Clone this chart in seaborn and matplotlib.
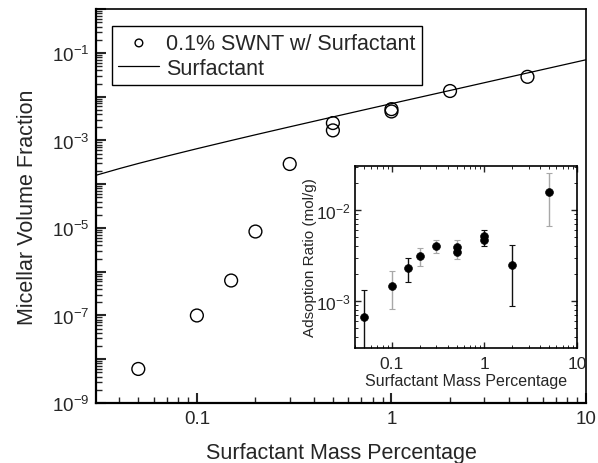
import matplotlib
matplotlib.use("Agg")
import matplotlib.pyplot as plt
import matplotlib.ticker as mticker
import numpy as np
import pandas as pd
import seaborn as sns

# main panel: micellar volume fraction vs surfactant mass percentage
swnt_conc = [0.05, 0.1, 0.15, 0.2, 0.3, 0.5, 0.5, 1, 1, 2, 5]
swnt_frac = [6e-9, 1e-7, 6.3e-7, 8.3e-6, 2.9e-4, 2.5e-3, 1.7e-3, 5.2e-3, 4.6e-3, 1.35e-2, 2.85e-2]

surf_conc = [0.03, 0.04, 0.05, 0.07, 0.1, 0.15, 0.2, 0.3, 0.5, 0.7, 1, 2, 5, 10]
surf_frac = [1.58e-4, 2.28e-4, 2.98e-4, 4.38e-4, 6.48e-4, 9.98e-4, 1.35e-3,
             2.05e-3, 3.45e-3, 4.85e-3, 6.95e-3, 1.39e-2, 3.49e-2, 6.99e-2]

# inset: adsorption ratio
ads_conc = [0.05, 0.1, 0.15, 0.2, 0.3, 0.5, 0.5, 1, 1, 2, 5]
ads_ratio = [6.7e-4, 1.46e-3, 2.3e-3, 3.13e-3, 4.0e-3, 3.9e-3, 3.5e-3, 5.2e-3, 4.7e-3, 2.49e-3, 1.58e-2]

err_conc = [0.05, 0.1, 0.15, 0.2, 0.3, 0.5, 1, 2, 5]
err_hi = [1.32e-3, 2.14e-3, 2.97e-3, 3.83e-3, 4.7e-3, 4.7e-3, 6.0e-3, 4.1e-3, 2.56e-2]
err_lo = [2e-4, 8.2e-4, 1.62e-3, 2.43e-3, 3.4e-3, 2.9e-3, 4.0e-3, 8.8e-4, 6.7e-3]
err_grey = [False, True, False, True, True, True, False, False, True]

sns.set_style("ticks")
plt.rcParams['font.family'] = ['Liberation Sans', 'DejaVu Sans']
plt.rcParams['mathtext.fontset'] = 'custom'
plt.rcParams['mathtext.rm'] = 'Liberation Sans'
plt.rcParams['mathtext.it'] = 'Liberation Sans'

swnt_df = pd.DataFrame({'conc': swnt_conc, 'frac': swnt_frac})
surf_df = pd.DataFrame({'conc': surf_conc, 'frac': surf_frac})
ads_df = pd.DataFrame({'conc': ads_conc, 'ratio': ads_ratio})

fig = plt.figure(figsize=(5.98, 4.64), dpi=100)
ax = fig.add_axes([0.1605, 0.1293, 0.8195, 0.8487])

sns.scatterplot(data=swnt_df, x='conc', y='frac', ax=ax, marker='o', s=85,
                facecolor='none', edgecolor='black', linewidth=1.0,
                label='0.1% SWNT w/ Surfactant', zorder=3)
sns.lineplot(data=surf_df, x='conc', y='frac', ax=ax, color='black', linewidth=0.9,
             label='Surfactant')

ax.set_xscale('log')
ax.set_yscale('log')
ax.set_xlim(0.0303, 10)
ax.set_ylim(1e-9, 1)


def odd_label(v, pos):
    e = int(round(np.log10(v)))
    return r'$10^{%d}$' % e if e % 2 != 0 else ''


ax.yaxis.set_major_locator(mticker.LogLocator(base=10, numticks=20))
ax.yaxis.set_minor_locator(mticker.LogLocator(base=10, subs=np.arange(2, 10), numticks=100))
ax.yaxis.set_major_formatter(mticker.FuncFormatter(odd_label))
ax.yaxis.set_minor_formatter(mticker.NullFormatter())
ax.xaxis.set_major_locator(mticker.FixedLocator([0.1, 1, 10]))
ax.xaxis.set_minor_locator(mticker.LogLocator(base=10, subs=np.arange(2, 10), numticks=100))
ax.xaxis.set_major_formatter(mticker.FixedFormatter(['0.1', '1', '10']))
ax.xaxis.set_minor_formatter(mticker.NullFormatter())

ax.tick_params(which='both', direction='in', top=False, right=False, labelsize=13.5, pad=5)
ax.tick_params(which='major', length=7, width=1.5)
ax.tick_params(which='minor', length=4, width=1.0)
for sp in ax.spines.values():
    sp.set_linewidth(1.6)
    sp.set_color('black')
ax.spines['top'].set_linewidth(1.2)
ax.spines['right'].set_linewidth(1.2)

ax.set_xlabel('Surfactant Mass Percentage', fontsize=15.5, labelpad=11)
ax.set_ylabel('Micellar Volume Fraction', fontsize=15.5, labelpad=10)

leg = ax.legend(loc='upper left', bbox_to_anchor=(0.0327, 0.957), borderaxespad=0,
                fontsize=15.5, frameon=True, fancybox=False, edgecolor='black',
                framealpha=1, handlelength=1.9, handletextpad=0.3, borderpad=0.3,
                labelspacing=0.2, markerscale=0.6)
leg.get_frame().set_linewidth(1.0)

# inset
ins = fig.add_axes([0.5936, 0.2478, 0.3713, 0.3922])
for xc, hi, lo, grey in zip(err_conc, err_hi, err_lo, err_grey):
    mid = np.sqrt(hi * lo)
    ins.errorbar([xc], [mid], yerr=[[mid - lo], [hi - mid]], fmt='none',
                 ecolor='#a8a8a8' if grey else '#111111', elinewidth=1.0,
                 capsize=2.5, capthick=0.8)
sns.scatterplot(data=ads_df, x='conc', y='ratio', ax=ins, marker='o', s=32,
                color='black', edgecolor='black', zorder=3)
ins.set_xscale('log')
ins.set_yscale('log')
ins.set_xlim(0.04, 10)
ins.set_ylim(3.05e-4, 3.05e-2)
ins.xaxis.set_major_locator(mticker.FixedLocator([0.1, 1, 10]))
ins.xaxis.set_major_formatter(mticker.FixedFormatter(['0.1', '1', '10']))
ins.xaxis.set_minor_locator(mticker.LogLocator(base=10, subs=np.arange(2, 10), numticks=100))
ins.xaxis.set_minor_formatter(mticker.NullFormatter())
ins.yaxis.set_major_locator(mticker.FixedLocator([1e-3, 1e-2]))
ins.yaxis.set_major_formatter(mticker.FixedFormatter([r'$10^{-3}$', r'$10^{-2}$']))
ins.yaxis.set_minor_locator(mticker.LogLocator(base=10, subs=np.arange(2, 10), numticks=100))
ins.yaxis.set_minor_formatter(mticker.NullFormatter())
ins.tick_params(which='both', direction='in', top=True, right=True, labelsize=12.5)
ins.tick_params(axis='x', which='both', pad=6)
ins.tick_params(axis='y', which='both', pad=3)
ins.tick_params(which='major', length=4, width=1.0)
ins.tick_params(which='minor', length=2, width=0.7)
for sp in ins.spines.values():
    sp.set_linewidth(1.2)
    sp.set_color('black')
ins.set_xlabel('Surfactant Mass Percentage', fontsize=11.5, labelpad=1)
ins.set_ylabel('Adsoption Ratio (mol/g)', fontsize=11, labelpad=-1)

fig.savefig('out.png', dpi=100)
